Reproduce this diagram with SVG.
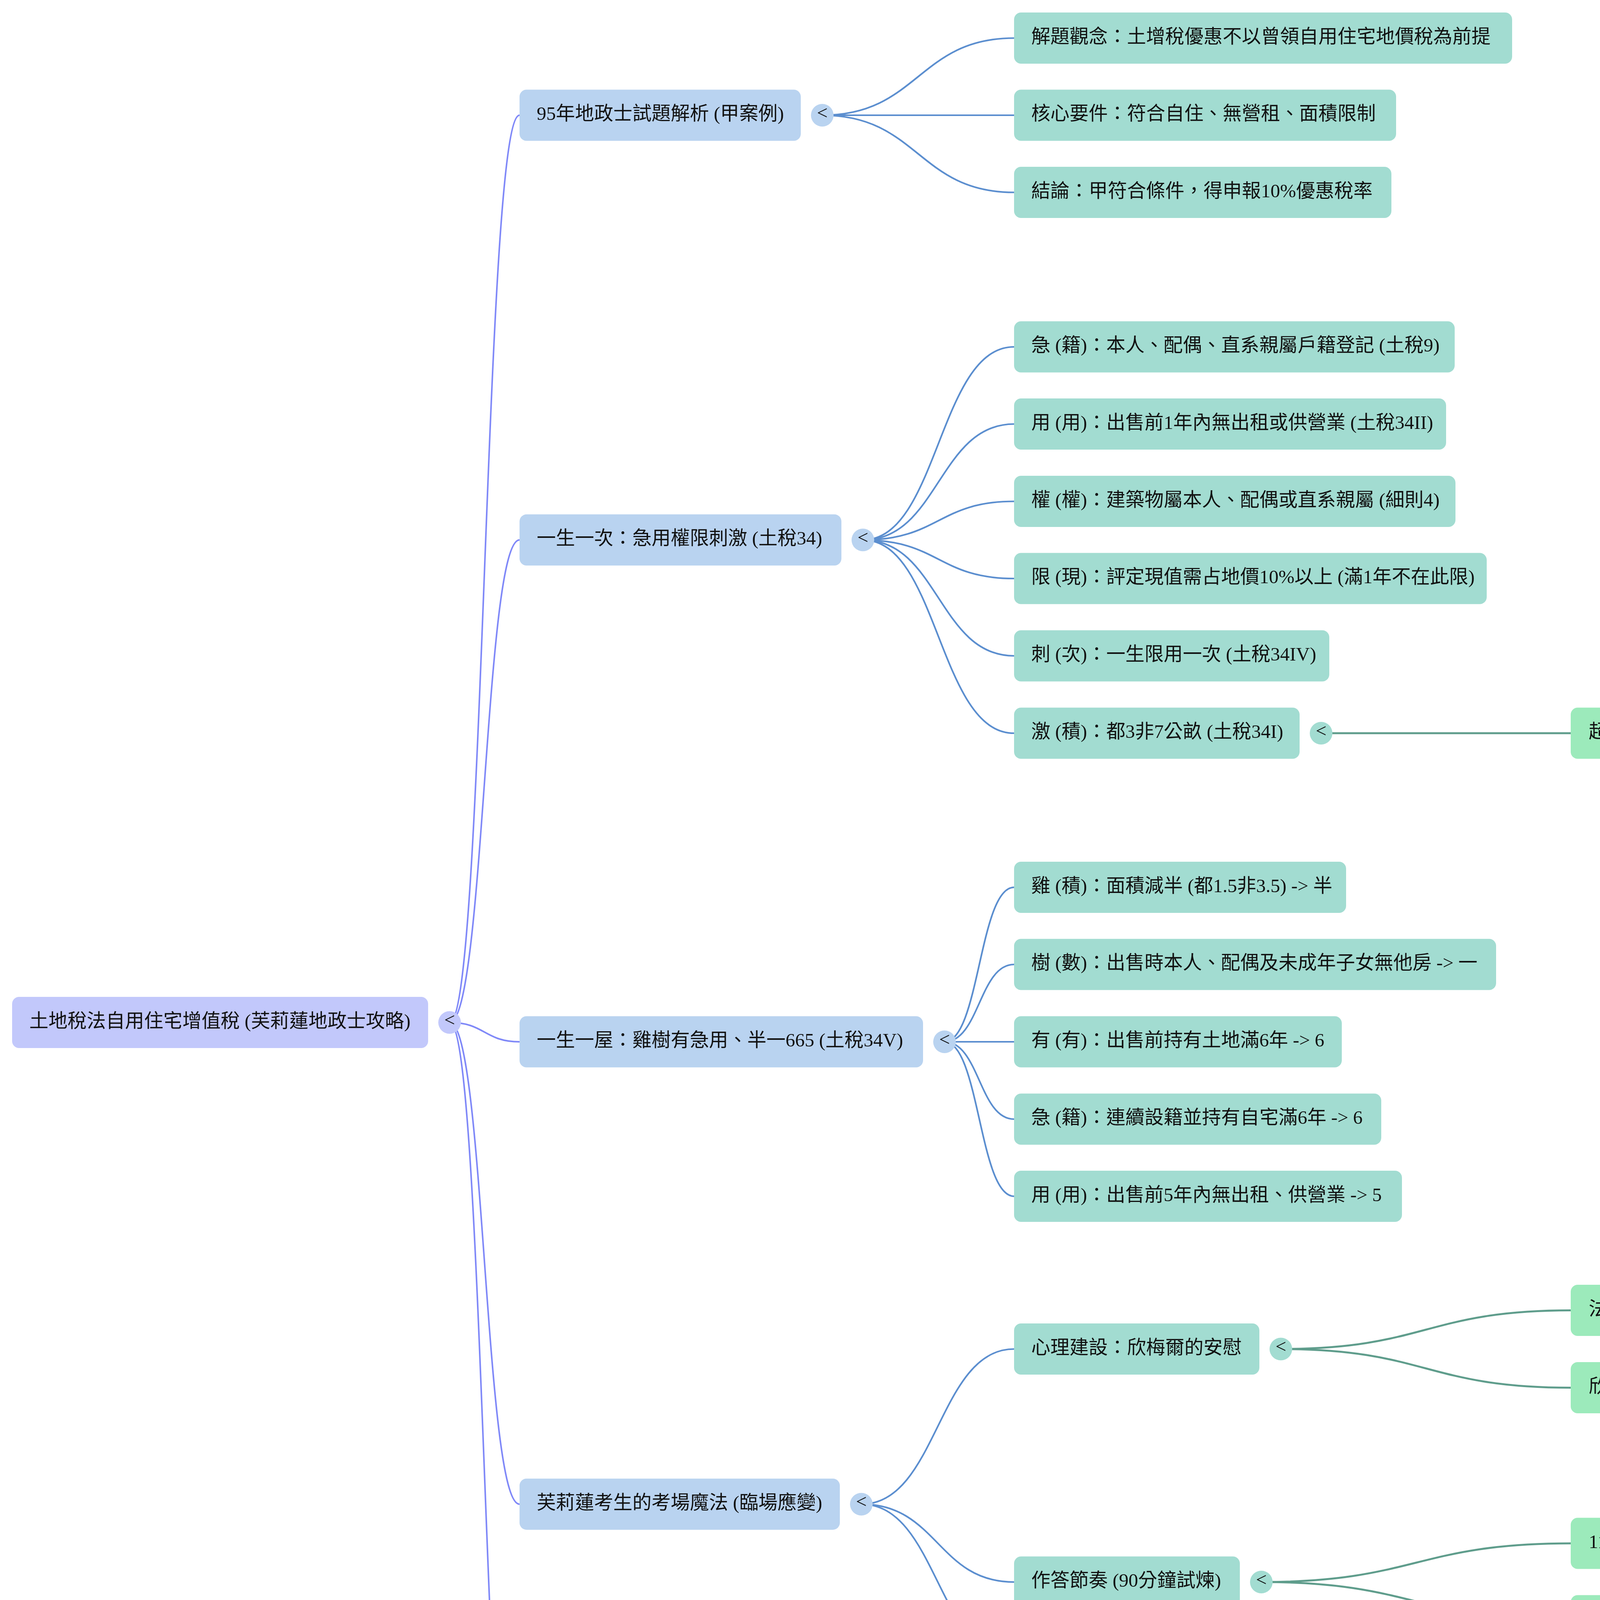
<svg xmlns="http://www.w3.org/2000/svg" width="5313" height="5433" viewBox="0 0 5313 5433">
<style>
text{font-family:"Liberation Serif","Noto Sans CJK TC","Noto Sans CJK SC",serif;font-size:49px;fill:#111}
.ch{text-anchor:middle;fill:#111}
.r0{fill:#c2c8fb}.r1{fill:#b9d3f0}.r2{fill:#a2dcd1}.r3{fill:#9ceabb}
.l0,.l1,.l2{fill:none;stroke-linecap:round}
.l0{stroke:#7f88f8;stroke-width:4}
.l1{stroke:#5b8ecf;stroke-width:4.2}
.l2{stroke:#5f9d8c;stroke-width:5}
</style>
<rect width="5313" height="5433" fill="#fff"/>
<g id="connectors">
<path class="l0" d="M1151,2617.5 C1240.5,2617.5 1240.5,295 1330,295"/>
<path class="l0" d="M1151,2617.5 C1240.5,2617.5 1240.5,1382.3 1330,1382.3"/>
<path class="l0" d="M1151,2617.5 C1240.5,2617.5 1240.5,2667 1330,2667"/>
<path class="l0" d="M1151,2617.5 C1240.5,2617.5 1240.5,3850.7 1330,3850.7"/>
<path class="l0" d="M1151,2617.5 C1240.5,2617.5 1240.5,4940 1330,4940"/>
<path class="l1" d="M2105,295 C2350.5,295 2350.5,97.5 2596,97.5"/>
<path class="l1" d="M2105,295 C2350.5,295 2350.5,295 2596,295"/>
<path class="l1" d="M2105,295 C2350.5,295 2350.5,492.5 2596,492.5"/>
<path class="l1" d="M2209,1382.3 C2402.5,1382.3 2402.5,888 2596,888"/>
<path class="l1" d="M2209,1382.3 C2402.5,1382.3 2402.5,1085.5 2596,1085.5"/>
<path class="l1" d="M2209,1382.3 C2402.5,1382.3 2402.5,1283.5 2596,1283.5"/>
<path class="l1" d="M2209,1382.3 C2402.5,1382.3 2402.5,1481 2596,1481"/>
<path class="l1" d="M2209,1382.3 C2402.5,1382.3 2402.5,1679 2596,1679"/>
<path class="l1" d="M2209,1382.3 C2402.5,1382.3 2402.5,1877 2596,1877"/>
<path class="l1" d="M2418,2667 C2507,2667 2507,2271.5 2596,2271.5"/>
<path class="l1" d="M2418,2667 C2507,2667 2507,2469 2596,2469"/>
<path class="l1" d="M2418,2667 C2507,2667 2507,2667 2596,2667"/>
<path class="l1" d="M2418,2667 C2507,2667 2507,2865 2596,2865"/>
<path class="l1" d="M2418,2667 C2507,2667 2507,3062.5 2596,3062.5"/>
<path class="l1" d="M2205,3850.7 C2400.5,3850.7 2400.5,3453.5 2596,3453.5"/>
<path class="l1" d="M2205,3850.7 C2400.5,3850.7 2400.5,4050 2596,4050"/>
<path class="l1" d="M2205,3850.7 C2400.5,3850.7 2400.5,4248 2596,4248"/>
<path class="l1" d="M1918,4940 C2257,4940 2257,4643 2596,4643"/>
<path class="l1" d="M1918,4940 C2257,4940 2257,5236.5 2596,5236.5"/>
<path class="l2" d="M3382,1877 C3701.5,1877 3701.5,1877 4021,1877"/>
<path class="l2" d="M3279,3453.5 C3650,3453.5 3650,3354.5 4021,3354.5"/>
<path class="l2" d="M3279,3453.5 C3650,3453.5 3650,3552.5 4021,3552.5"/>
<path class="l2" d="M3229,4050 C3625,4050 3625,3951 4021,3951"/>
<path class="l2" d="M3229,4050 C3625,4050 3625,4149 4021,4149"/>
<path class="l2" d="M3177,4643 C3599,4643 3599,4544 4021,4544"/>
<path class="l2" d="M3177,4643 C3599,4643 3599,4742 4021,4742"/>
<path class="l2" d="M3195,5236.5 C3608,5236.5 3608,5137.5 4021,5137.5"/>
<path class="l2" d="M3195,5236.5 C3608,5236.5 3608,5335.5 4021,5335.5"/>
</g>
<g id="root"><rect class="r0" x="31" y="2552" width="1065" height="131" rx="18"/><text x="75" y="2629.5">土地稅法自用住宅增值稅 (芙莉蓮地政士攻略)</text><circle class="r0" cx="1151" cy="2617.5" r="29"/><text class="ch" x="1151" y="2627">&lt;</text></g>
<g id="n1"><rect class="r1" x="1330" y="229.5" width="720" height="131" rx="18"/><text x="1374" y="307">95年地政士試題解析 (甲案例)</text><circle class="r1" cx="2105" cy="295" r="29"/><text class="ch" x="2105" y="304.5">&lt;</text></g>
<g id="n2"><rect class="r1" x="1330" y="1316.8" width="824" height="131" rx="18"/><text x="1374" y="1394.3">一生一次：急用權限刺激 (土稅34)</text><circle class="r1" cx="2209" cy="1382.3" r="29"/><text class="ch" x="2209" y="1391.8">&lt;</text></g>
<g id="n3"><rect class="r1" x="1330" y="2601.5" width="1033" height="131" rx="18"/><text x="1374" y="2679">一生一屋：雞樹有急用、半一665 (土稅34V)</text><circle class="r1" cx="2418" cy="2667" r="29"/><text class="ch" x="2418" y="2676.5">&lt;</text></g>
<g id="n4"><rect class="r1" x="1330" y="3785.2" width="820" height="131" rx="18"/><text x="1374" y="3862.7">芙莉蓮考生的考場魔法 (臨場應變)</text><circle class="r1" cx="2205" cy="3850.7" r="29"/><text class="ch" x="2205" y="3860.2">&lt;</text></g>
<g id="n5"><rect class="r1" x="1330" y="4874.5" width="533" height="131" rx="18"/><text x="1374" y="4952">考前衝刺快速記憶卡</text><circle class="r1" cx="1918" cy="4940" r="29"/><text class="ch" x="1918" y="4949.5">&lt;</text></g>
<g id="a1"><rect class="r2" x="2596" y="32" width="1275" height="131" rx="18"/><text x="2640" y="109.5">解題觀念：土增稅優惠不以曾領自用住宅地價稅為前提</text></g>
<g id="a2"><rect class="r2" x="2596" y="229.5" width="978" height="131" rx="18"/><text x="2640" y="307">核心要件：符合自住、無營租、面積限制</text></g>
<g id="a3"><rect class="r2" x="2596" y="427" width="966" height="131" rx="18"/><text x="2640" y="504.5">結論：甲符合條件，得申報10%優惠稅率</text></g>
<g id="b1"><rect class="r2" x="2596" y="822.5" width="1128" height="131" rx="18"/><text x="2640" y="900">急 (籍)：本人、配偶、直系親屬戶籍登記 (土稅9)</text></g>
<g id="b2"><rect class="r2" x="2596" y="1020" width="1106" height="131" rx="18"/><text x="2640" y="1097.5">用 (用)：出售前1年內無出租或供營業 (土稅34II)</text></g>
<g id="b3"><rect class="r2" x="2596" y="1218" width="1130" height="131" rx="18"/><text x="2640" y="1295.5">權 (權)：建築物屬本人、配偶或直系親屬 (細則4)</text></g>
<g id="b4"><rect class="r2" x="2596" y="1415.5" width="1210" height="131" rx="18"/><text x="2640" y="1493">限 (現)：評定現值需占地價10%以上 (滿1年不在此限)</text></g>
<g id="b5"><rect class="r2" x="2596" y="1613.5" width="807" height="131" rx="18"/><text x="2640" y="1691">刺 (次)：一生限用一次 (土稅34IV)</text></g>
<g id="b6"><rect class="r2" x="2596" y="1811.5" width="731" height="131" rx="18"/><text x="2640" y="1889">激 (積)：都3非7公畝 (土稅34I)</text><circle class="r2" cx="3382" cy="1877" r="29"/><text class="ch" x="3382" y="1886.5">&lt;</text></g>
<g id="b6a"><rect class="r3" x="4021" y="1811.5" width="1174" height="131" rx="18"/><text x="4067" y="1889">超過處理：依擇定順序或增值稅高低計算 (細則44)</text></g>
<g id="c1"><rect class="r2" x="2596" y="2206" width="850" height="131" rx="18"/><text x="2640" y="2283.5">雞 (積)：面積減半 (都1.5非3.5) -&gt; 半</text></g>
<g id="c2"><rect class="r2" x="2596" y="2403.5" width="1234" height="131" rx="18"/><text x="2640" y="2481">樹 (數)：出售時本人、配偶及未成年子女無他房 -&gt; 一</text></g>
<g id="c3"><rect class="r2" x="2596" y="2601.5" width="839" height="131" rx="18"/><text x="2640" y="2679">有 (有)：出售前持有土地滿6年 -&gt; 6</text></g>
<g id="c4"><rect class="r2" x="2596" y="2799.5" width="940" height="131" rx="18"/><text x="2640" y="2877">急 (籍)：連續設籍並持有自宅滿6年 -&gt; 6</text></g>
<g id="c5"><rect class="r2" x="2596" y="2997" width="993" height="131" rx="18"/><text x="2640" y="3074.5">用 (用)：出售前5年內無出租、供營業 -&gt; 5</text></g>
<g id="d1"><rect class="r2" x="2596" y="3388" width="628" height="131" rx="18"/><text x="2640" y="3465.5">心理建設：欣梅爾的安慰</text><circle class="r2" cx="3279" cy="3453.5" r="29"/><text class="ch" x="3279" y="3463">&lt;</text></g>
<g id="d1a"><rect class="r3" x="4021" y="3289" width="777" height="131" rx="18"/><text x="4067" y="3366.5">法條記不住：大哭三天三夜場景</text></g>
<g id="d1b"><rect class="r3" x="4021" y="3487" width="1123" height="131" rx="18"/><text x="4067" y="3564.5">欣梅爾名言：只要跨出這一步，就是巨大的前進</text></g>
<g id="d2"><rect class="r2" x="2596" y="3984.5" width="578" height="131" rx="18"/><text x="2640" y="4062">作答節奏 (90分鐘試煉)</text><circle class="r2" cx="3229" cy="4050" r="29"/><text class="ch" x="3229" y="4059.5">&lt;</text></g>
<g id="d2a"><rect class="r3" x="4021" y="3885.5" width="585" height="131" rx="18"/><text x="4067" y="3963">11:10 - 12:40：共計4題</text></g>
<g id="d2b"><rect class="r3" x="4021" y="4083.5" width="767" height="131" rx="18"/><text x="4067" y="4161">每題22.5分鐘：嚴格控時不超標</text></g>
<g id="d3"><rect class="r2" x="2596" y="4182.5" width="1123" height="131" rx="18"/><text x="2640" y="4260">精簡寫法：口訣還原法條內容，條列式層次分明</text></g>
<g id="e1"><rect class="r2" x="2596" y="4577.5" width="526" height="131" rx="18"/><text x="2640" y="4655">考前30分鐘 (濃縮卡)</text><circle class="r2" cx="3177" cy="4643" r="29"/><text class="ch" x="3177" y="4652.5">&lt;</text></g>
<g id="e1a"><rect class="r3" x="4021" y="4478.5" width="859" height="131" rx="18"/><text x="4067" y="4556">關鍵條文：土稅9、34、細則4、44</text></g>
<g id="e1b"><rect class="r3" x="4021" y="4676.5" width="681" height="131" rx="18"/><text x="4067" y="4754">稅基關鍵：土地漲價總數額</text></g>
<g id="e2"><rect class="r2" x="2596" y="5171" width="544" height="131" rx="18"/><text x="2640" y="5248.5">考前3分鐘 (閃擊記憶)</text><circle class="r2" cx="3195" cy="5236.5" r="29"/><text class="ch" x="3195" y="5246">&lt;</text></g>
<g id="e2a"><rect class="r3" x="4021" y="5072" width="678" height="131" rx="18"/><text x="4067" y="5149.5">急用權限刺激 (10% / 1 / 3-7)</text></g>
<g id="e2b"><rect class="r3" x="4021" y="5270" width="658" height="131" rx="18"/><text x="4067" y="5347.5">半一665 (10% / 多 / 1.5-3.5)</text></g>
</svg>
